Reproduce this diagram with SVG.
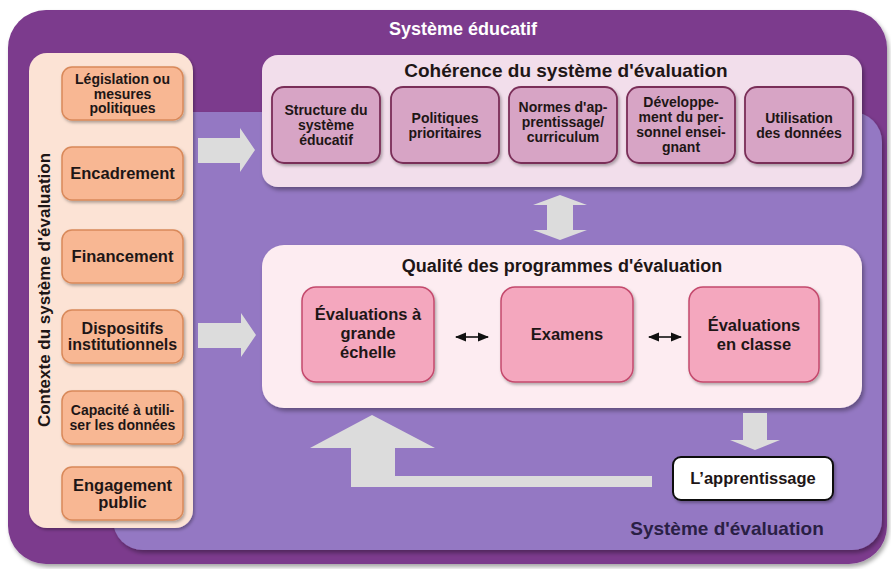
<svg xmlns="http://www.w3.org/2000/svg" width="891" height="569" viewBox="0 0 891 569">
<defs>
<filter id="sh" x="-10%" y="-10%" width="125%" height="130%"><feDropShadow dx="2" dy="3" stdDeviation="2" flood-color="#000" flood-opacity="0.35"/></filter>
<filter id="shs" x="-10%" y="-10%" width="125%" height="130%"><feDropShadow dx="1.5" dy="2" stdDeviation="1.5" flood-color="#000" flood-opacity="0.3"/></filter>
<marker id="ah" viewBox="0 0 10 10" refX="9" refY="5" markerWidth="7" markerHeight="7" orient="auto-start-reverse"><path d="M0,1 L10,5 L0,9 Z" fill="#111"/></marker>
<style>
text{font-family:"Liberation Sans",Arial,sans-serif;font-weight:bold;fill:#1e1616;text-anchor:middle}
.org{fill:#F8B793;stroke:#D9895A;stroke-width:1.5}
.mau{fill:#D7A4C5;stroke:#7A2E58;stroke-width:1.8}
.pnk{fill:#F4A7BE;stroke:#C44A6D;stroke-width:1.5}
.arr{fill:#DCDCDC}
.s14{font-size:14px}
.s16{font-size:16px}
.s165{font-size:16.5px}
.s18{font-size:18px}
.s19{font-size:19px}
</style>
</defs>
<g id="systeme-educatif">
<rect x="8" y="10" width="879" height="554" rx="38" fill="#7C3B8D" filter="url(#sh)"/>
<text x="463" y="35" class="s18" style="fill:#fff">Système éducatif</text>
</g>
<g id="systeme-evaluation">
<rect x="113" y="112" width="769" height="438" rx="30" fill="#9478C3" filter="url(#sh)"/>
<text x="727" y="535" class="s19" style="fill:#2a1f45">Système d'évaluation</text>
</g>
<g id="contexte">
<rect x="29" y="53" width="164" height="475" rx="18" fill="#FCE3D5" filter="url(#shs)"/>
<text transform="translate(50,290) rotate(-90)" style="font-size:17px">Contexte du système d'évaluation</text>
</g>
<g id="legislation">
<rect x="62" y="67" width="121" height="53" rx="10" class="org" filter="url(#shs)"/>
<text class="s14"><tspan x="122.5" y="84">Législation ou</tspan><tspan x="122.5" y="98.5">mesures</tspan><tspan x="122.5" y="113">politiques</tspan></text>
</g>
<g id="encadrement">
<rect x="62" y="147" width="121" height="53" rx="10" class="org" filter="url(#shs)"/>
<text x="122.5" y="179" class="s165">Encadrement</text>
</g>
<g id="financement">
<rect x="62" y="230" width="121" height="53" rx="10" class="org" filter="url(#shs)"/>
<text x="122.5" y="262" class="s165">Financement</text>
</g>
<g id="dispositifs">
<rect x="62" y="310" width="121" height="53" rx="10" class="org" filter="url(#shs)"/>
<text class="s16"><tspan x="122.5" y="334">Dispositifs</tspan><tspan x="122.5" y="350">institutionnels</tspan></text>
</g>
<g id="capacite">
<rect x="62" y="391" width="121" height="53" rx="10" class="org" filter="url(#shs)"/>
<text class="s14"><tspan x="122.5" y="415">Capacité à utili-</tspan><tspan x="122.5" y="430">ser les données</tspan></text>
</g>
<g id="engagement">
<rect x="62" y="467" width="121" height="53" rx="10" class="org" filter="url(#shs)"/>
<text class="s165"><tspan x="122.5" y="491">Engagement</tspan><tspan x="122.5" y="508">public</tspan></text>
</g>
<g id="coherence">
<rect x="262" y="55" width="600" height="132" rx="16" fill="#F2DEEB" filter="url(#sh)"/>
<text x="566" y="77" class="s19">Cohérence du système d'évaluation</text>
</g>
<g id="structure">
<rect x="272" y="87" width="108" height="76" rx="12" class="mau" filter="url(#shs)"/>
<text class="s14"><tspan x="326" y="115">Structure du</tspan><tspan x="326" y="130">système</tspan><tspan x="326" y="145">éducatif</tspan></text>
</g>
<g id="politiques">
<rect x="391" y="87" width="108" height="76" rx="12" class="mau" filter="url(#shs)"/>
<text class="s14"><tspan x="445" y="123">Politiques</tspan><tspan x="445" y="138">prioritaires</tspan></text>
</g>
<g id="normes">
<rect x="509" y="87" width="108" height="76" rx="12" class="mau" filter="url(#shs)"/>
<text class="s14"><tspan x="563" y="112">Normes d'ap-</tspan><tspan x="563" y="127">prentissage/</tspan><tspan x="563" y="142">curriculum</tspan></text>
</g>
<g id="developpement">
<rect x="627" y="87" width="108" height="76" rx="12" class="mau" filter="url(#shs)"/>
<text class="s14"><tspan x="681" y="107">Développe-</tspan><tspan x="681" y="122">ment du per-</tspan><tspan x="681" y="137">sonnel ensei-</tspan><tspan x="681" y="152">gnant</tspan></text>
</g>
<g id="utilisation">
<rect x="745" y="87" width="108" height="76" rx="12" class="mau" filter="url(#shs)"/>
<text class="s14"><tspan x="799" y="123">Utilisation</tspan><tspan x="799" y="138">des données</tspan></text>
</g>
<g id="qualite">
<rect x="262" y="245" width="600" height="163" rx="22" fill="#FDECF1" filter="url(#sh)"/>
<text x="562" y="272" class="s18">Qualité des programmes d'évaluation</text>
</g>
<g id="grande-echelle">
<rect x="302" y="287" width="132" height="95" rx="14" class="pnk" filter="url(#shs)"/>
<text class="s165"><tspan x="368" y="320">Évaluations à</tspan><tspan x="368" y="339">grande</tspan><tspan x="368" y="358">échelle</tspan></text>
</g>
<g id="examens">
<rect x="501" y="287" width="132" height="95" rx="14" class="pnk" filter="url(#shs)"/>
<text x="567" y="340" class="s165">Examens</text>
</g>
<g id="classe">
<rect x="689" y="287" width="130" height="95" rx="14" class="pnk" filter="url(#shs)"/>
<text class="s165"><tspan x="754" y="331">Évaluations</tspan><tspan x="754" y="350">en classe</tspan></text>
</g>
<g id="apprentissage">
<rect x="673" y="457" width="160" height="43" rx="8" fill="#fff" stroke="#111" stroke-width="2" filter="url(#shs)"/>
<text x="753" y="484" class="s165">L’apprentissage</text>
</g>
<g id="connectors">
<polygon class="arr" points="198,138 240,138 240,128 255,150 240,172 240,163 198,163"/>
<polygon class="arr" points="198,323 241,323 241,313 256,335 241,357 241,348 198,348"/>
<polygon class="arr" points="560,195 587,205 573,205 573,230 587,230 560,240 533,230 547,230 547,205 533,205"/>
<polygon class="arr" points="743,413 767,413 767,440 780,440 755,450 730,440 743,440"/>
<polygon class="arr" points="372,415 435,448 395,448 395,476 652,476 652,487 351,487 351,448 310,448"/>
<line x1="456" y1="337" x2="488" y2="337" stroke="#111" stroke-width="1.6" marker-start="url(#ah)" marker-end="url(#ah)"/>
<line x1="649" y1="337" x2="681" y2="337" stroke="#111" stroke-width="1.6" marker-start="url(#ah)" marker-end="url(#ah)"/>
</g>
</svg>
